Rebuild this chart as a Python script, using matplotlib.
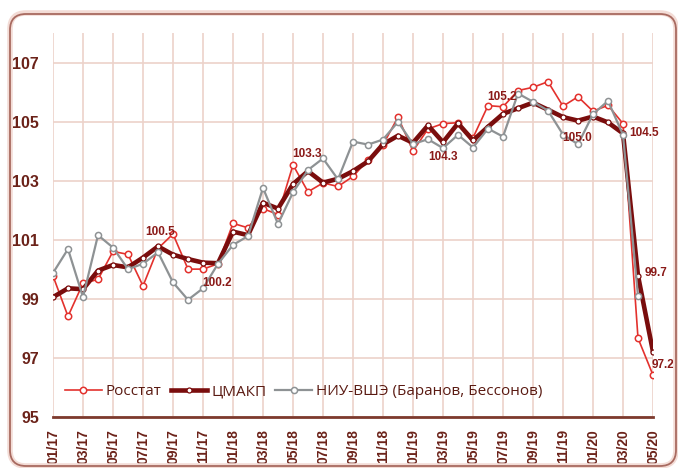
import numpy as np
import matplotlib
matplotlib.use("Agg")
import matplotlib.pyplot as plt
from matplotlib import font_manager
from matplotlib.patches import FancyBboxPatch
from matplotlib.transforms import IdentityTransform

# ---------------- data ----------------
months = ["01/17", "02/17", "03/17", "04/17", "05/17", "06/17", "07/17", "08/17", "09/17", "10/17",
          "11/17", "12/17", "01/18", "02/18", "03/18", "04/18", "05/18", "06/18", "07/18", "08/18",
          "09/18", "10/18", "11/18", "12/18", "01/19", "02/19", "03/19", "04/19", "05/19", "06/19",
          "07/19", "08/19", "09/19", "10/19", "11/19", "12/19", "01/20", "02/20", "03/20", "04/20",
          "05/20"]

rosstat = [99.77, 98.40, 99.52, 99.65, 100.60, 100.50, 99.43, 100.70, 101.19, 100.00,
           100.00, 100.18, 101.55, 101.40, 102.05, 101.85, 103.53, 102.62, 102.92, 102.80,
           103.14, 103.70, 104.21, 105.15, 104.00, 104.75, 104.93, 104.96, 104.45, 105.54,
           105.50, 106.05, 106.16, 106.35, 105.52, 105.84, 105.35, 105.55, 104.93, 97.66,
           96.41]

cmakp = [99.05, 99.35, 99.32, 99.95, 100.14, 100.06, 100.39, 100.77, 100.49, 100.34,
         100.22, 100.20, 101.27, 101.15, 102.25, 102.05, 102.88, 103.32, 102.93, 103.06,
         103.32, 103.65, 104.23, 104.52, 104.28, 104.87, 104.30, 104.94, 104.36, 104.82,
         105.26, 105.45, 105.64, 105.40, 105.15, 105.03, 105.17, 104.97, 104.60, 99.78,
         97.20]

hse = [99.87, 100.68, 99.05, 101.15, 100.73, 100.00, 100.18, 100.57, 99.55, 98.96,
       99.35, 100.18, 100.82, 101.12, 102.75, 101.53, 102.60, 103.36, 103.75, 103.04,
       104.32, 104.22, 104.39, 104.99, 104.24, 104.40, 104.10, 104.55, 104.12, 104.76,
       104.49, 105.95, 105.67, 105.37, 104.56, 104.23, 105.25, 105.70, 104.55, 99.09,
       np.nan]

series_names = ["Росстат", "ЦМАКП", "НИУ-ВШЭ (Баранов, Бессонов)"]

label_idx = [7, 10, 17, 26, 30, 35, 38, 39, 40]
label_txt = ["100.5", "100.2", "103.3", "104.3", "105.2", "105.0", "104.5", "99.7", "97.2"]

y_ticks = [95, 97, 99, 101, 103, 105, 107]

# ---------------- style ----------------
names = {f.name for f in font_manager.fontManager.ttflist}
narrow = "Liberation Sans Narrow" if "Liberation Sans Narrow" in names else "Liberation Sans"

C_RED = "#e3312d"
C_DARK = "#7a0d0d"
C_GRAY = "#8e9294"
C_TXT = "#6b2219"
C_GRID = "#ecd2ca"
C_LBL = "#8a1a18"

W, H = 678, 468
fig = plt.figure(figsize=(W / 100, H / 100), dpi=100)
fig.patch.set_facecolor("white")

# outer rounded frame (pixel coordinates, origin bottom-left)
shadow = FancyBboxPatch((10, 2), 666, 453, boxstyle="round,pad=0,rounding_size=16",
                        transform=IdentityTransform(), facecolor="none",
                        edgecolor="#f3dcd6", linewidth=4.0)
frame = FancyBboxPatch((10, 2), 666, 452, boxstyle="round,pad=0,rounding_size=16",
                       transform=IdentityTransform(), facecolor="none",
                       edgecolor="#a86a60", linewidth=1.3)
fig.patches.append(shadow)
fig.patches.append(frame)

ax = fig.add_axes([53 / W, 1 - 416.7 / H, 600 / W, (416.7 - 33) / H])
ax.set_facecolor("white")

x = np.arange(len(months))

ax.plot(x, rosstat, color=C_RED, lw=1.2, marker="o", ms=4.6, mfc="white",
        mec=C_RED, mew=1.1, label=series_names[0], zorder=3)
ax.plot(x, cmakp, color=C_DARK, lw=3.3, marker="o", ms=3.6, mfc="white",
        mec=C_DARK, mew=0.9, label=series_names[1], zorder=4)
ax.plot(x, hse, color=C_GRAY, lw=1.6, marker="o", ms=4.4, mfc="white",
        mec=C_GRAY, mew=1.1, label=series_names[2], zorder=5)

label_offsets = [(1.4, 10.4), (10, -15), (-0.7, 12.2), (0, -10.8), (-0.7, 12.2),
                 (-0.7, -12.2), (15, 0), (13, 2), (7, -9.4)]
for i, t, off in zip(label_idx, label_txt, label_offsets):
    ax.annotate(t, (x[i], cmakp[i]), xytext=off, textcoords="offset points",
                ha="center", va="center", fontsize=8.5, fontweight="bold",
                color=C_LBL, family=narrow, zorder=6)

ax.set_xlim(0, len(months) - 1)
ax.set_ylim(95, 108)
ax.set_yticks(y_ticks)
ax.set_yticklabels([str(v) for v in y_ticks])
ax.set_xticks(x[::2])
ax.set_xticklabels(months[::2], rotation=90)

for lab in ax.get_yticklabels():
    lab.set_fontsize(11.5)
    lab.set_fontweight("bold")
    lab.set_color(C_TXT)
    lab.set_family(narrow)
for lab in ax.get_xticklabels():
    lab.set_fontsize(10)
    lab.set_fontweight("bold")
    lab.set_color(C_TXT)
    lab.set_family(narrow)

ax.tick_params(axis="both", length=0)
ax.tick_params(axis="y", pad=10)
ax.tick_params(axis="x", pad=9)

ax.grid(True, color=C_GRID, lw=1.2, zorder=0)
ax.set_axisbelow(True)
for s in ["left", "right", "top"]:
    ax.spines[s].set_visible(False)
ax.spines["bottom"].set_color("#7d3a2e")
ax.spines["bottom"].set_linewidth(2)

leg = ax.legend(loc="center left", bbox_to_anchor=(0.01, 0.065), ncol=3, frameon=False,
                prop={"family": "Open Sans", "size": 11}, handlelength=2.4,
                handletextpad=0.25, columnspacing=0.6, borderaxespad=0)
for t in leg.get_texts():
    t.set_color("#5a1a12")

fig.savefig("out.png", dpi=100, facecolor="white")
